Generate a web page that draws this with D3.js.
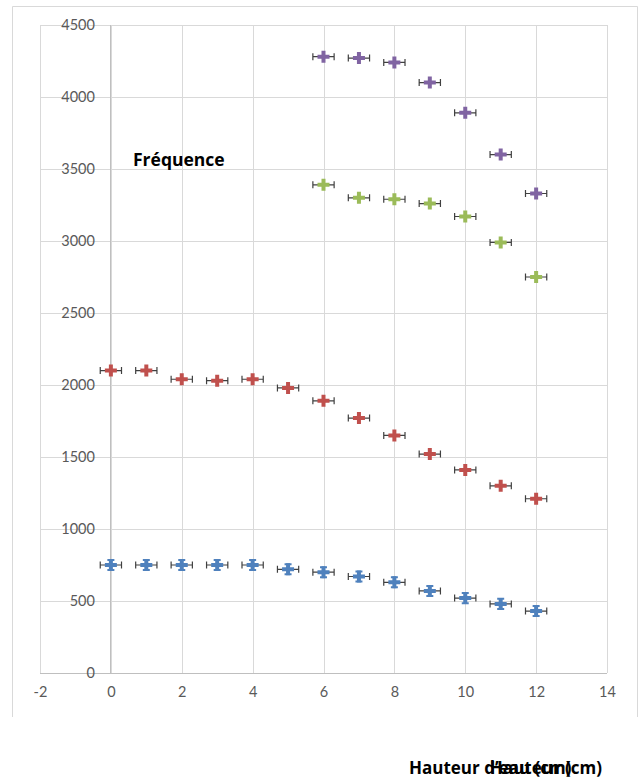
<!DOCTYPE html>
<html>

<script src="https://cdn.jsdelivr.net/npm/d3@7/dist/d3.min.js"></script>

<style>

  body, html {
    padding: 0;
    margin: 0;
    background: #fff;
  }

  svg {
    display: block;
  }

  .tick text {
    font-family: Lato, "Open Sans", sans-serif;
    font-size: 14.5px;
    fill: #595959;
  }

  .label {
    font-family: "Open Sans", Lato, sans-serif;
    font-weight: bold;
    fill: #000;
  }

</style>

<body>
  <svg width="639" height="780"></svg>

  <script>

    // data

    var xTicks = [-2, 0, 2, 4, 6, 8, 10, 12, 14];
    var yTicks = [0, 500, 1000, 1500, 2000, 2500, 3000, 3500, 4000, 4500];

    var hauteurs = [0, 1, 2, 3, 4, 5, 6, 7, 8, 9, 10, 11, 12];
    var hauteursHautes = [6, 7, 8, 9, 10, 11, 12];

    var serieBleue = [750, 750, 750, 750, 750, 720, 700, 670, 630, 570, 520, 480, 430];
    var serieRouge = [2100, 2100, 2040, 2030, 2040, 1980, 1890, 1770, 1650, 1520, 1410, 1300, 1210];
    var serieVerte = [3390, 3300, 3290, 3260, 3170, 2990, 2750];
    var serieViolette = [4280, 4270, 4240, 4100, 3890, 3600, 3330];

    var erreurX = 0.3;
    var erreurYBleue = 35;

    var series = [
      {x: hauteurs, y: serieBleue, color: '#4F81BD', yerr: erreurYBleue},
      {x: hauteurs, y: serieRouge, color: '#C0504D', yerr: 0},
      {x: hauteursHautes, y: serieVerte, color: '#9BBB59', yerr: 0},
      {x: hauteursHautes, y: serieViolette, color: '#8064A2', yerr: 0}
    ];

    var svg = d3.select('svg');

    var x = d3.scaleLinear().domain([-2, 14]).range([40, 607]);
    var y = d3.scaleLinear().domain([0, 4500]).range([673, 25]);

    var plain = function (d) { return String(d); };

    // chart frame (top, left, right)
    svg.append('path')
      .attr('d', 'M12.5,717 V6.5 H637.5 V717')
      .attr('fill', 'none')
      .attr('stroke', '#d9d9d9')
      .attr('stroke-width', 1);

    // gridlines
    svg.append('g')
      .attr('transform', 'translate(0,' + y(0) + ')')
      .call(d3.axisBottom(x).tickValues(xTicks).tickSize(-(y(0) - y(4500))).tickFormat(''))
      .call(function (g) {
        g.select('.domain').remove();
        g.selectAll('line').attr('stroke', '#d9d9d9').attr('shape-rendering', 'crispEdges');
      });

    svg.append('g')
      .attr('transform', 'translate(' + x(-2) + ',0)')
      .call(d3.axisLeft(y).tickValues(yTicks).tickSize(-(x(14) - x(-2))).tickFormat(''))
      .call(function (g) {
        g.select('.domain').remove();
        g.selectAll('line').attr('stroke', '#d9d9d9').attr('shape-rendering', 'crispEdges');
      });

    // axis lines
    svg.append('line')
      .attr('x1', x(0)).attr('x2', x(0))
      .attr('y1', y(0)).attr('y2', y(4500))
      .attr('stroke', '#bfbfbf')
      .attr('shape-rendering', 'crispEdges');

    svg.append('line')
      .attr('x1', x(-2)).attr('x2', x(14))
      .attr('y1', y(0)).attr('y2', y(0))
      .attr('stroke', '#bfbfbf')
      .attr('shape-rendering', 'crispEdges');

    // y labels next to the axis at x = 0
    svg.append('g')
      .attr('transform', 'translate(' + x(0) + ',0)')
      .call(d3.axisLeft(y).tickValues(yTicks).tickSize(0).tickPadding(16).tickFormat(plain))
      .call(function (g) { g.select('.domain').remove(); });

    // x labels under the plot
    svg.append('g')
      .attr('transform', 'translate(0,' + y(0) + ')')
      .call(d3.axisBottom(x).tickValues(xTicks).tickSize(0).tickPadding(14).tickFormat(plain))
      .call(function (g) { g.select('.domain').remove(); });

    // points with error bars
    var cap = 3.5;

    series.forEach(function (s) {
      var pts = s.x.map(function (v, i) { return {x: v, y: s.y[i]}; });
      var g = svg.append('g');

      var err = g.selectAll('g.err').data(pts).enter().append('g')
        .attr('class', 'err')
        .attr('stroke', '#404040')
        .attr('stroke-width', 1.2)
        .attr('fill', 'none');

      err.append('path')
        .attr('d', function (d) {
          var x0 = x(d.x - erreurX), x1 = x(d.x + erreurX), yy = y(d.y);
          return 'M' + x0 + ',' + yy + 'H' + x1 +
            'M' + x0 + ',' + (yy - cap) + 'V' + (yy + cap) +
            'M' + x1 + ',' + (yy - cap) + 'V' + (yy + cap);
        });

      if (s.yerr) {
        err.append('path')
          .attr('d', function (d) {
            var y0 = y(d.y - s.yerr), y1 = y(d.y + s.yerr), xx = x(d.x);
            return 'M' + xx + ',' + y0 + 'V' + y1 +
              'M' + (xx - cap) + ',' + y0 + 'H' + (xx + cap) +
              'M' + (xx - cap) + ',' + y1 + 'H' + (xx + cap);
          })
          .attr('stroke', s.color)
          .attr('stroke-width', 2);
      }

      g.selectAll('path.pt').data(pts).enter().append('path')
        .attr('class', 'pt')
        .attr('d', d3.symbol().type(d3.symbolCross).size(80))
        .attr('transform', function (d) { return 'translate(' + x(d.x) + ',' + y(d.y) + ')'; })
        .attr('fill', s.color);
    });

    // titles
    svg.append('text')
      .attr('class', 'label')
      .attr('x', 133)
      .attr('y', 166)
      .style('font-size', '17.5px')
      .text('Fréquence');

    svg.append('text')
      .attr('class', 'label')
      .attr('x', 409)
      .attr('y', 774)
      .style('font-size', '17px')
      .text('Hauteur d\u2019eau (cm)');

    svg.append('text')
      .attr('class', 'label')
      .attr('x', 602)
      .attr('y', 774)
      .attr('text-anchor', 'end')
      .style('font-size', '17px')
      .text('Hauteur (cm)');

  </script>
</body>
</html>
